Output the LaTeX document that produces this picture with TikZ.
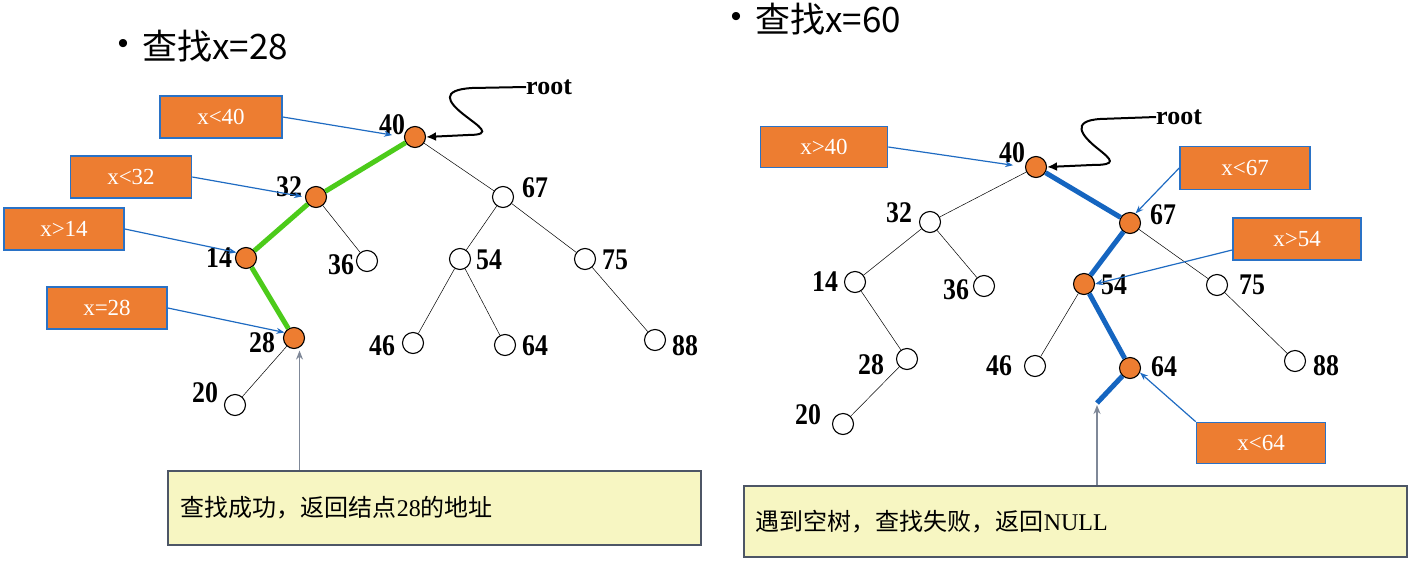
\documentclass[tikz,border=0pt]{standalone}
\usepackage{fontspec}
\setmainfont{Liberation Serif}
\newfontfamily\cjk{Noto Sans CJK SC}
\newfontfamily\bulfont{Liberation Sans}
\usetikzlibrary{arrows.meta}
\definecolor{org}{HTML}{ED7D31}
\definecolor{boxblue}{HTML}{2A72C6}
\definecolor{arrblue}{HTML}{1F6BC2}
\definecolor{pathblue}{HTML}{1565C0}
\definecolor{pathgreen}{HTML}{4CCB1A}
\definecolor{noteyellow}{HTML}{F7F6C2}
\definecolor{notegray}{HTML}{4D5666}
\definecolor{arrgray}{HTML}{7F8898}
\newcommand{\nm}[1]{\scalebox{0.86}[1]{#1}}
\begin{document}
\begin{tikzpicture}[x=1pt,y=-1pt,
  tn/.style={circle,draw=black,line width=1.1pt,fill=white,minimum size=21pt,inner sep=0pt},
  on/.style={tn,fill=org},
  num/.style={font=\fontsize{30}{32}\selectfont\bfseries,inner sep=0pt},
  rootlab/.style={font=\fontsize{26}{28}\selectfont\bfseries,inner sep=0pt,anchor=west},
  cbox/.style={draw=boxblue,line width=1.6pt,fill=org,text=white,minimum height=42pt,font=\fontsize{23}{25}\selectfont,inner sep=0pt},
  barr/.style={draw=arrblue,line width=1.2pt,-{Stealth[length=8pt,width=6pt]}},
  tedge/.style={line width=0.5pt,draw=black},
  gpath/.style={draw=pathgreen,line width=5pt},
  bpath/.style={draw=pathblue,line width=5pt},
  note/.style={draw=notegray,fill=noteyellow,line width=1.5pt,anchor=north west,align=left,font=\fontsize{24}{27}\selectfont},
  garr/.style={draw=arrgray,line width=1.3pt,-{Stealth[length=9pt,width=7pt]}},
  rarr/.style={draw=black,line width=2pt,-{Latex[length=10pt,width=9pt]}},
  ttl/.style={font=\cjk\fontsize{35}{39}\selectfont,inner sep=0pt,anchor=west},
  bul/.style={font=\bulfont\fontsize{30}{32}\selectfont,inner sep=0pt}
]
\useasboundingbox (0,0) rectangle (1418,570);

% ---------------- left ----------------
\node[bul] (Lbul) at (123,46) {•};
\node[ttl] (Lttl) at (142,46) {查找x=28};

\node[on] (L40) at (415,137) {};
\node[on] (L32) at (316,197) {};
\node[tn] (L67) at (503,197) {};
\node[on] (L14) at (246,258) {};
\node[tn] (L36) at (367,261) {};
\node[tn] (L54) at (460,259) {};
\node[tn] (L75) at (585,259) {};
\node[on] (L28) at (294,338) {};
\node[tn] (L46) at (413,343) {};
\node[tn] (L64) at (505,345) {};
\node[tn] (L88) at (655,340) {};
\node[tn] (L20) at (235,405) {};

\node[num] (L40t) at (392,125) {\nm{40}};
\node[num] (L32t) at (289,187) {\nm{32}};
\node[num] (L67t) at (535,188) {\nm{67}};
\node[num] (L14t) at (219,258) {\nm{14}};
\node[num] (L36t) at (341,265) {\nm{36}};
\node[num] (L54t) at (489,260) {\nm{54}};
\node[num] (L75t) at (615,260) {\nm{75}};
\node[num] (L28t) at (262,343) {\nm{28}};
\node[num] (L46t) at (382,346) {\nm{46}};
\node[num] (L64t) at (535,346) {\nm{64}};
\node[num] (L88t) at (685,346) {\nm{88}};
\node[num] (L20t) at (205,393) {\nm{20}};

\draw[gpath] (L40) -- (L32);
\draw[gpath] (L32) -- (L14);
\draw[gpath] (L14) -- (L28);
\draw[tedge] (L40) -- (L67);
\draw[tedge] (L32) -- (L36);
\draw[tedge] (L28) -- (L20);
\draw[tedge] (L67) -- (L54);
\draw[tedge] (L67) -- (L75);
\draw[tedge] (L54) -- (L46);
\draw[tedge] (L54) -- (L64);
\draw[tedge] (L75) -- (L88);

\node[rootlab] (Lroot) at (526,87) {root};
\draw[rarr] (Lroot.west) -- (472,88) .. controls (440,90) and (448,102) .. (463,114)
  .. controls (478,126) and (495,135) .. (468,135) -- (L40.east);

\node[cbox,minimum width=122pt] (Lb40) at (221,117) {x<40};
\node[cbox,minimum width=121pt] (Lb32) at (131,177) {x<32};
\node[cbox,minimum width=120pt] (Lb14) at (64,229) {x>14};
\node[cbox,minimum width=120pt] (Lb28) at (107,308) {x=28};
\draw[barr,shorten >=12pt] (Lb40.east) -- (L40.west);
\draw[barr,shorten >=3pt] (Lb32.east) -- (L32.west);
\draw[barr] (Lb14.east) -- (L14.150);
\draw[barr] (Lb28.east) -- (L28.150);

\node[note,minimum height=74pt,text width=507pt,inner xsep=13pt,inner ysep=0pt] (Lnote) at (167,470)
  {{\cjk 查找成功，返回结点}28{\cjk 的地址}};
\draw[garr,shorten >=3pt] (Lnote.north -| L28.-60) -- (L28.-60);

% ---------------- right ----------------
\node[bul] (Rbul) at (736,19) {•};
\node[ttl] (Rttl) at (755,19) {查找x=60};

\node[on] (R40) at (1036,167) {};
\node[tn] (R32) at (930,222) {};
\node[on] (R67) at (1130,223) {};
\node[tn] (R14) at (855,282) {};
\node[tn] (R36) at (984,286) {};
\node[on] (R54) at (1084,284) {};
\node[tn] (R75) at (1217,285) {};
\node[tn] (R28) at (907,359) {};
\node[tn] (R46) at (1035,366) {};
\node[on] (R64) at (1130,368) {};
\node[tn] (R88) at (1295,361) {};
\node[tn] (R20) at (843,424) {};
\coordinate (Rnull) at (1097,403);

\node[num] (R40t) at (1012,153) {\nm{40}};
\node[num] (R32t) at (899,213) {\nm{32}};
\node[num] (R67t) at (1163,215) {\nm{67}};
\node[num] (R14t) at (825,282) {\nm{14}};
\node[num] (R36t) at (956,290) {\nm{36}};
\node[num] (R54t) at (1114,285) {\nm{54}};
\node[num] (R75t) at (1252,285) {\nm{75}};
\node[num] (R28t) at (871,365) {\nm{28}};
\node[num] (R46t) at (999,366) {\nm{46}};
\node[num] (R64t) at (1164,367) {\nm{64}};
\node[num] (R88t) at (1326,366) {\nm{88}};
\node[num] (R20t) at (808,415) {\nm{20}};

\draw[bpath] (R40) -- (R67);
\draw[bpath] (R67) -- (R54);
\draw[bpath] (R54) -- (R64);
\draw[bpath] (R64) -- (Rnull);
\draw[tedge] (R40) -- (R32);
\draw[tedge] (R32) -- (R14);
\draw[tedge] (R32) -- (R36);
\draw[tedge] (R14) -- (R28);
\draw[tedge] (R28) -- (R20);
\draw[tedge] (R67) -- (R75);
\draw[tedge] (R54) -- (R46);
\draw[tedge] (R75) -- (R88);

\node[rootlab] (Rroot) at (1156,117) {root};
\draw[rarr] (Rroot.west) -- (1100,119) .. controls (1070,121) and (1082,136) .. (1097,148)
  .. controls (1112,160) and (1118,165) .. (1092,165) -- (R40.east);

\node[cbox,minimum width=127pt,minimum height=41pt] (Rb40) at (824,147) {x>40};
\node[cbox,minimum width=130pt,minimum height=43pt] (Rb67) at (1245,168) {x<67};
\node[cbox,minimum width=128pt] (Rb54) at (1297,239) {x>54};
\node[cbox,minimum width=129pt,minimum height=41pt] (Rb64) at (1261,443) {x<64};
\draw[barr,shorten >=12pt] (Rb40.east) -- (R40.west);
\draw[barr] (Rb67.west) -- (R67.60);
\draw[barr] ([yshift=-11pt]Rb54.west) -- (R54.east);
\draw[barr] (Rb64.north west) -- (R64.-25);

\node[note,minimum height=71pt,text width=639pt,inner xsep=12pt,inner ysep=0pt] (Rnote) at (743,485)
  {{\cjk 遇到空树，查找失败，返回}NULL};
\draw[garr,shorten >=2pt] (Rnote.north -| Rnull) -- (Rnull);
\end{tikzpicture}
\end{document}
